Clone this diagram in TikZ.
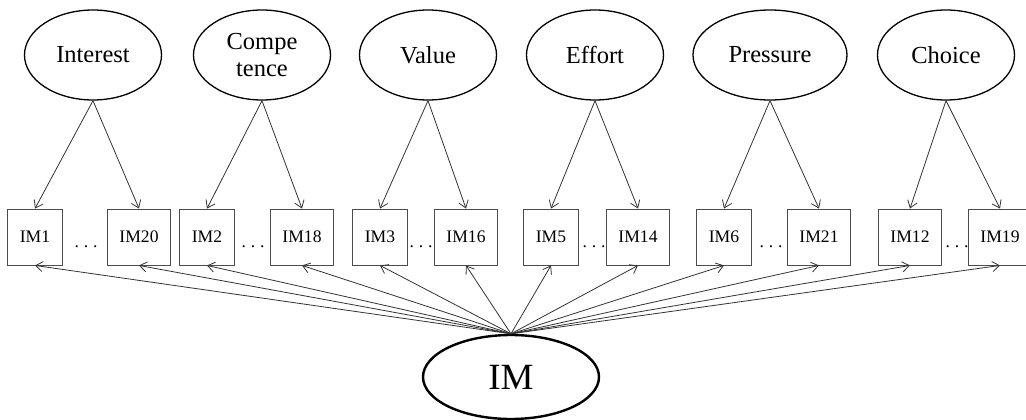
\documentclass[tikz,border=0pt]{standalone}
\usepackage{fontspec}
\setmainfont{Liberation Serif}
\usetikzlibrary{shapes.geometric,arrows.meta}

\begin{document}
\begin{tikzpicture}[x=1pt,y=-1pt,
  factor/.style={ellipse,draw,line width=1.3pt,minimum width=137pt,minimum height=90pt,
    inner sep=0pt,align=center,font=\fontsize{24.5}{27}\selectfont},
  item/.style={rectangle,draw=black!70,line width=0.9pt,minimum height=56pt,
    inner xsep=12pt,inner ysep=0pt,font=\fontsize{17.6}{20}\selectfont},
  gap/.style={inner sep=0pt,anchor=base,font=\fontsize{17.6}{20}\selectfont},
  load/.style={draw=black!80,line width=0.8pt,-{Straight Barb[length=7pt,width=10pt]}}
]
\useasboundingbox (0,0) rectangle (1026,420);

% first-order factors
\node[factor] (interest) at (93,55) {Interest};
\node[factor] (compet)   at (262,55) {Compe\\tence};
\node[factor] (value)    at (428,55) {Value};
\node[factor] (effort)   at (595,55) {Effort};
\node[factor,minimum width=154pt] (pressure) at (770,55) {Pressure};
\node[factor] (choice)   at (946,55) {Choice};

% second-order factor
\node[ellipse,draw,line width=2.4pt,minimum width=176pt,minimum height=84pt,inner sep=0pt,
  font=\fontsize{37}{40}\selectfont] (IM) at (511,377) {IM};

% indicators
\node[item] (im1)  at (35,237)  {IM1};
\node[item] (im20) at (139,237) {IM20};
\node[item] (im2)  at (207,237) {IM2};
\node[item] (im18) at (302,237) {IM18};
\node[item] (im3)  at (380,237) {IM3};
\node[item] (im16) at (466,237) {IM16};
\node[item] (im5)  at (551,237) {IM5};
\node[item] (im14) at (638,237) {IM14};
\node[item] (im6)  at (724,237) {IM6};
\node[item] (im21) at (819,237) {IM21};
\node[item] (im12) at (910,237) {IM12};
\node[item] (im19) at (1000,237) {IM19};

% ellipses between indicator pairs
\newcommand{\gapdots}{.\kern4.9pt.\kern4.9pt.}
\node[gap] (g1) at (86,247)  {\gapdots};
\node[gap] (g2) at (253,247) {\gapdots};
\node[gap] (g3) at (421,247) {\gapdots};
\node[gap] (g4) at (594,247) {\gapdots};
\node[gap] (g5) at (771,247) {\gapdots};
\node[gap] (g6) at (957,247) {\gapdots};

% factor loadings
\draw[load] (interest.south) -- (im1.north);
\draw[load] (interest.south) -- (im20.north);
\draw[load] (compet.south) -- (im2.north);
\draw[load] (compet.south) -- (im18.north);
\draw[load] (value.south) -- (im3.north);
\draw[load] (value.south) -- (im16.north);
\draw[load] (effort.south) -- (im5.north);
\draw[load] (effort.south) -- (im14.north);
\draw[load] (pressure.south) -- (im6.north);
\draw[load] (pressure.south) -- (im21.north);
\draw[load] (choice.south) -- (im12.north);
\draw[load] (choice.south) -- (im19.north);

\foreach \t in {im1,im20,im2,im18,im3,im16,im5,im14,im6,im21,im12,im19}
  \draw[load] (IM.north) -- (\t.south);
\end{tikzpicture}
\end{document}
